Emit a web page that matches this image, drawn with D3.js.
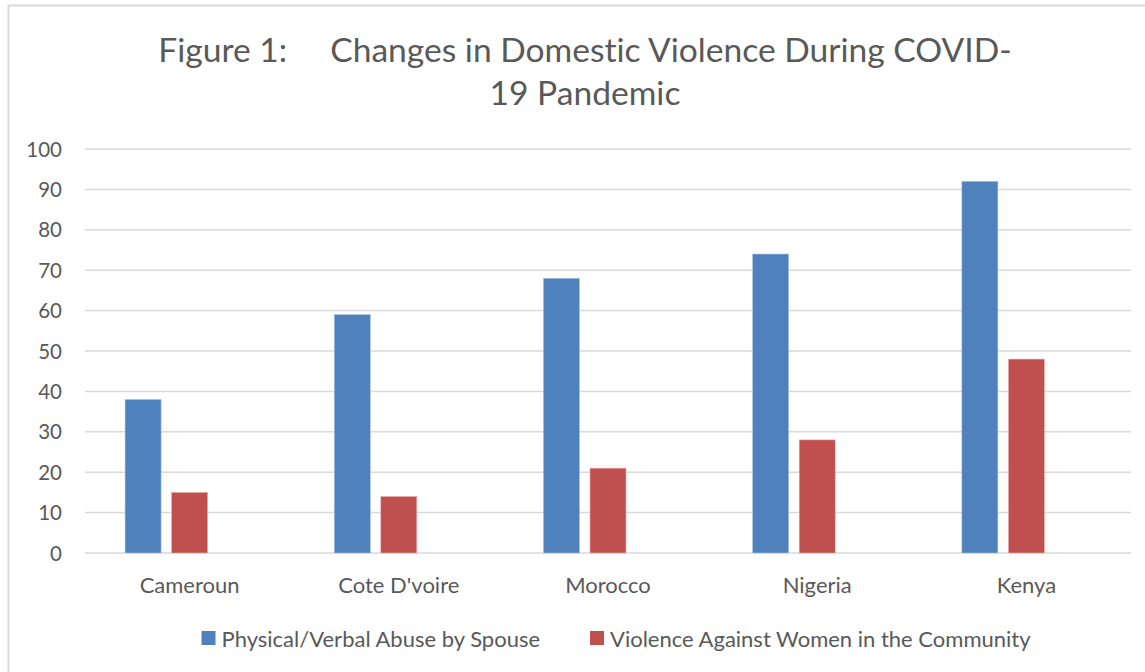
<!DOCTYPE html>
<html>
<head>
<meta charset="utf-8">
<script src="https://cdn.jsdelivr.net/npm/d3@7"></script>
<style>
  html, body { margin: 0; padding: 0; background: #fff; }
  svg { display: block; }
  text { font-family: Lato, "Open Sans", sans-serif; fill: #595959; font-variant-ligatures: none; }
</style>
</head>
<body>
<svg id="chart" width="1145" height="672"></svg>
<script>
const categories = ["Cameroun", "Cote D'voire", "Morocco", "Nigeria", "Kenya"];
const seriesNames = ["Physical/Verbal Abuse by Spouse", "Violence Against Women in the Community"];
const spouseAbuse = [38, 59, 68, 74, 92];
const communityViolence = [15, 14, 21, 28, 48];
const seriesColors = ["#4F81BD", "#C0504D"];
const yTicks = [0, 10, 20, 30, 40, 50, 60, 70, 80, 90, 100];
const titleLines = ["Figure 1:     Changes in Domestic Violence During COVID-", "19 Pandemic"];

const seriesValues = [spouseAbuse, communityViolence];
const W = 1145, H = 672;
const svg = d3.select("#chart");

// outer border of chart area (right/bottom cropped)
svg.append("rect")
  .attr("x", 8.5).attr("y", 5.5)
  .attr("width", W + 10).attr("height", H + 10)
  .attr("fill", "none").attr("stroke", "#d9d9d9").attr("stroke-width", 2);

const plot = { left: 85, right: 1131, top: 149, bottom: 553 };

const x = d3.scaleBand().domain(categories)
  .range([plot.left, plot.right])
  .paddingInner(0.383).paddingOuter(0.1915);
// Excel-style cluster with three slots (third slot empty)
const xInner = d3.scaleBand().domain(d3.range(3))
  .range([0, x.bandwidth()])
  .paddingInner(0.226).paddingOuter(0);
const y = d3.scaleLinear().domain([0, 100]).range([plot.bottom, plot.top]);

// gridlines
svg.append("g").selectAll("line").data(yTicks).join("line")
  .attr("x1", plot.left).attr("x2", plot.right)
  .attr("y1", d => y(d)).attr("y2", d => y(d))
  .attr("stroke", "#d9d9d9").attr("stroke-width", 1.5);

// y axis labels
const yAxis = d3.axisLeft(y).tickValues(yTicks).tickSize(0).tickPadding(0);
const yg = svg.append("g").attr("transform", "translate(62,0)").call(yAxis);
yg.select(".domain").remove();
yg.selectAll("text").attr("font-size", 20.5).attr("fill", "#595959")
  .style("font-family", "Lato, 'Open Sans', sans-serif").attr("dy", "0.35em");

// bars
seriesValues.forEach((vals, si) => {
  svg.append("g").selectAll("rect").data(vals).join("rect")
    .attr("x", (d, i) => x(categories[i]) + xInner(si))
    .attr("width", xInner.bandwidth())
    .attr("y", d => y(d))
    .attr("height", d => y(0) - y(d))
    .attr("fill", seriesColors[si])
    .attr("stroke", si === 0 ? "#a9c1e0" : "#e8b2b0")
    .attr("stroke-width", 0.6);
});

// x axis labels
const xAxis = d3.axisBottom(x).tickSize(0).tickPadding(0);
const xg = svg.append("g").attr("transform", "translate(0,593)").call(xAxis);
xg.select(".domain").remove();
xg.selectAll("text").attr("font-size", 22).attr("fill", "#595959")
  .style("font-family", "Lato, 'Open Sans', sans-serif").attr("dy", 0);

// title
svg.append("text").attr("x", 585).attr("y", 62).attr("text-anchor", "middle")
  .attr("font-size", 33.6).attr("xml:space", "preserve").style("white-space", "pre")
  .selectAll("tspan").data(titleLines).join("tspan")
  .attr("x", 585).attr("dy", (d, i) => i === 0 ? 0 : 43).text(d => d);

// legend
const legendItems = [
  { name: seriesNames[0], color: seriesColors[0], x: 201.5 },
  { name: seriesNames[1], color: seriesColors[1], x: 590 }
];
const lg = svg.append("g").selectAll("g").data(legendItems).join("g")
  .attr("transform", d => `translate(${d.x},0)`);
lg.append("rect").attr("x", 0).attr("y", 631).attr("width", 14).attr("height", 14)
  .attr("fill", d => d.color);
lg.append("text").attr("x", 20).attr("y", 646.5).attr("font-size", 22).text(d => d.name);
</script>
</body>
</html>
